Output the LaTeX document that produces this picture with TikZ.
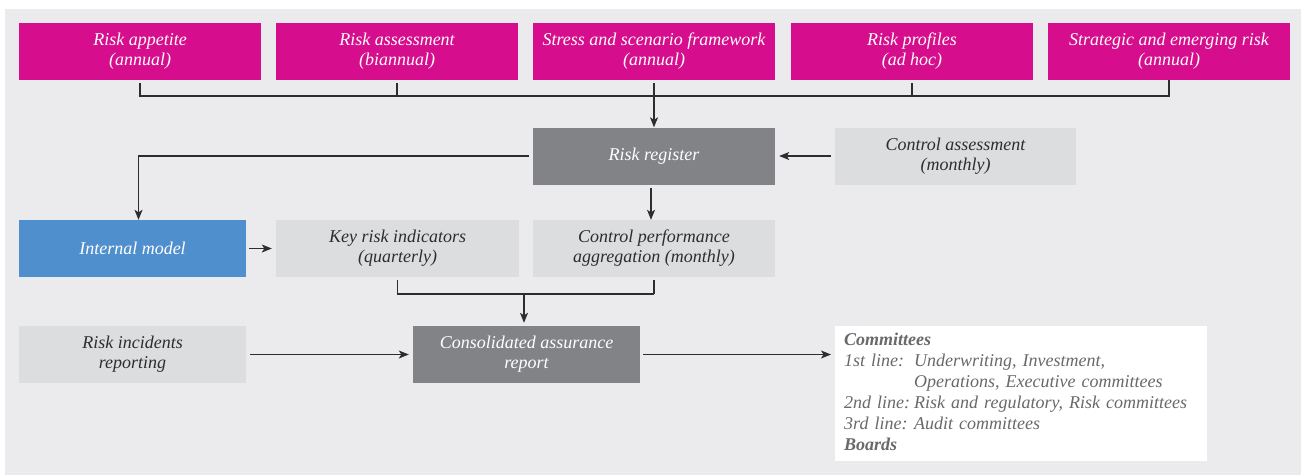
\documentclass[tikz,border=0pt]{standalone}
\usepackage{fontspec}
\setmainfont{Liberation Serif}
\usepackage{tikz}
\usetikzlibrary{arrows.meta,positioning}
\definecolor{panel}{RGB}{235,235,237}
\definecolor{magent}{RGB}{214,13,140}
\definecolor{pale}{RGB}{220,221,223}
\definecolor{slate}{RGB}{130,131,135}
\definecolor{skyblue}{RGB}{79,143,205}
\definecolor{ink}{RGB}{45,45,47}
\definecolor{softink}{RGB}{105,105,108}

\tikzset{
  box/.style={rectangle,inner sep=0pt,minimum width=242pt,minimum height=57pt,
    align=center,font=\fontsize{18}{20}\selectfont\itshape},
  pinkbox/.style={box,fill=magent,text=white},
  greybox/.style={box,fill=pale,text=ink},
  darkbox/.style={box,fill=slate,text=white},
  bluebox/.style={box,fill=skyblue,text=white,minimum width=227pt},
  link/.style={draw=ink,line width=1.1pt},
  arr/.style={link,-{Stealth[length=10pt,width=8pt,inset=2.5pt]}}
}

\begin{document}
\begin{tikzpicture}[x=1pt,y=-1pt]
  \useasboundingbox (0,0) rectangle (1301,475);
  \fill[panel] (5,9) rectangle (1301,475);

  % top row
  \node[pinkbox] (app)    at (140,51)  {Risk appetite\\(annual)};
  \node[pinkbox] (assess) at (397,51)  {Risk assessment\\(biannual)};
  \node[pinkbox] (stress) at (654,51)  {Stress and scenario framework\\(annual)};
  \node[pinkbox] (prof)   at (912,51)  {Risk profiles\\(ad hoc)};
  \node[pinkbox] (strat)  at (1169,51) {Strategic and emerging risk\\(annual)};

  \node[darkbox] (reg)  at (654,156)  {Risk register};
  \node[greybox,minimum width=241pt] (ctrl) at (955.5,156) {Control assessment\\(monthly)};

  \node[bluebox] (intm) at (132.5,248.5) {Internal model};
  \node[greybox,minimum width=243pt] (kri) at (397.5,248.5) {Key risk indicators\\(quarterly)};
  \node[greybox] (cpa)  at (654,248.5)  {Control performance\\aggregation (monthly)};

  \node[greybox,minimum width=227pt] (inc) at (132.5,354.5) {Risk incidents\\reporting};
  \node[darkbox,minimum width=227pt] (cons) at (526.5,354.5) {Consolidated assurance\\report};

  \node[fill=white,anchor=north west,inner xsep=9pt,inner ysep=0pt,
    minimum height=135pt,text width=354pt,align=left,text=softink,
    font=\fontsize{18}{21}\selectfont\itshape] (comm) at (835,326) {%
    \begin{tabular}{@{}l@{\hspace{4pt}}l@{}}
      \multicolumn{2}{@{}l}{\bfseries Committees}\\
      1st line: & Underwriting, Investment,\\
                & Operations, Executive committees\\
      2nd line: & Risk and regulatory, Risk committees\\
      3rd line: & Audit committees\\
      \multicolumn{2}{@{}l}{\bfseries Boards}
    \end{tabular}};

  % connectors
  \coordinate (bar) at (654,96);
  \draw[link,shorten <=3pt] (app.south) -- (app.south |- bar) -- (strat.south |- bar) -- (strat.south);
  \draw[link,shorten >=3pt] (assess.south |- bar) -- (assess.south);
  \draw[link,shorten >=3pt] (prof.south |- bar) -- (prof.south);
  \draw[arr,shorten <=3pt] (stress.south) -- (reg.north);
  \draw[arr,shorten <=4pt] (reg.west) -| ([xshift=6pt]intm.north);
  \draw[arr,shorten <=4pt,shorten >=4pt] (ctrl.west) -- (reg.east);
  \draw[arr,shorten <=3pt] ([xshift=-3pt]reg.south) -- ([xshift=-3pt]cpa.north);
  \draw[arr,shorten <=3pt,shorten >=4pt] (intm.east) -- (kri.west);

  \coordinate (jn) at (524,294);
  \draw[link,shorten <=3pt] (kri.south) -- (kri.south |- jn) -- (cpa.south |- jn);
  \draw[link,shorten >=3pt] (cpa.south |- jn) -- (cpa.south);
  \draw[arr,shorten >=3pt] (jn) -- (jn |- cons.north);
  \draw[arr,shorten <=4pt,shorten >=4pt] (inc.east) -- (cons.west);
  \draw[arr,shorten <=3pt,shorten >=4pt] (cons.east) -- (cons.east -| comm.west);
\end{tikzpicture}
\end{document}
